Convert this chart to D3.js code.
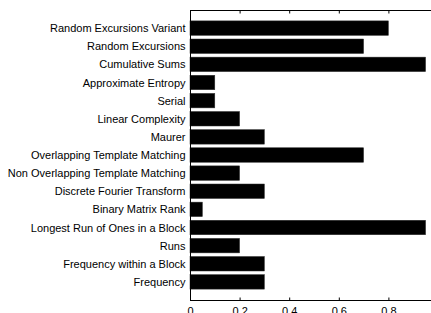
<!DOCTYPE html>
<html><head><meta charset="utf-8">
<script src="https://d3js.org/d3.v7.min.js"></script>
<style>html,body{margin:0;padding:0;background:#fff;overflow:hidden}</style>
</head><body>
<script>
const categories = ["Random Excursions Variant","Random Excursions","Cumulative Sums","Approximate Entropy","Serial","Linear Complexity","Maurer","Overlapping Template Matching","Non Overlapping Template Matching","Discrete Fourier Transform","Binary Matrix Rank","Longest Run of Ones in a Block","Runs","Frequency within a Block","Frequency"];
const values = [0.8,0.7,0.95,0.1,0.1,0.2,0.3,0.7,0.2,0.3,0.05,0.95,0.2,0.3,0.3];
const xTicks = [0,0.2,0.4,0.6,0.8,1];

(function(){
const W=431,H=313;
const mLeft=190, mTop=10, mBottom=300, mRight=438;
const svg=d3.select("body").append("svg").attr("width",W).attr("height",H)
  .style("font-family","Liberation Sans, Arial, sans-serif");
svg.append("rect").attr("width",W).attr("height",H).attr("fill","#fff");

const x=d3.scaleLinear().domain([0,1]).range([mLeft,mRight]);
const n=categories.length;
const y=d3.scaleLinear().domain([n+1,0]).range([mTop,mBottom]);
const barW=0.8;

const g=svg.append("g");
g.selectAll("rect.bar").data(categories).join("rect")
  .attr("class","bar")
  .attr("x",x(0))
  .attr("y",(d,i)=>y(n-i+barW/2))
  .attr("width",(d,i)=>x(values[i])-x(0))
  .attr("height",y(0)-y(barW))
  .attr("fill","#000").attr("stroke","#333").attr("stroke-width",0.5);

svg.append("line").attr("x1",mLeft).attr("x2",W).attr("y1",mTop+0.5).attr("y2",mTop+0.5).attr("stroke","#000");
svg.append("line").attr("x1",mLeft).attr("x2",W).attr("y1",mBottom+0.5).attr("y2",mBottom+0.5).attr("stroke","#000");
svg.append("line").attr("x1",mLeft+0.5).attr("x2",mLeft+0.5).attr("y1",mTop).attr("y2",mBottom+1).attr("stroke","#000");

const xa=svg.append("g").attr("transform",`translate(0,${mBottom+0.5})`)
  .call(d3.axisBottom(x).tickValues(xTicks).tickSize(-3).tickPadding(7).tickFormat(d=>d===0?"0":d3.format(".1f")(d)));
xa.select(".domain").remove();
xa.selectAll("text").attr("font-size",11).attr("fill","#000").attr("font-family","Liberation Sans, Arial, sans-serif");
xa.selectAll("line").attr("stroke","#000");
const xt=svg.append("g").attr("transform",`translate(0,${mTop+0.5})`)
  .call(d3.axisTop(x).tickValues(xTicks).tickSize(-3).tickFormat(""));
xt.select(".domain").remove();
xt.selectAll("line").attr("stroke","#000");

const ya=svg.append("g").attr("transform",`translate(${mLeft+0.5},0)`)
  .call(d3.axisLeft(y).tickValues(d3.range(1,n+1)).tickSize(-3).tickPadding(5).tickFormat(v=>categories[n-v]));
ya.select(".domain").remove();
ya.selectAll("text").attr("font-size",11).attr("fill","#000").attr("font-family","Liberation Sans, Arial, sans-serif");
ya.selectAll("line").attr("stroke","#000");
})();
</script>
</body></html>
